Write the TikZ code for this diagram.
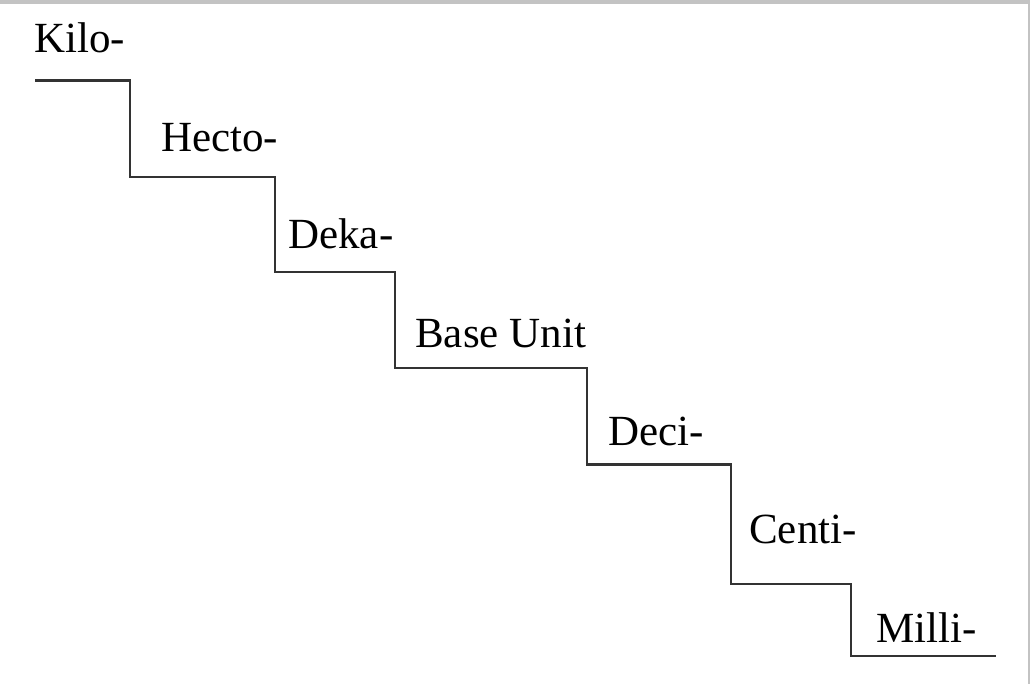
\documentclass[tikz,border=0pt]{standalone}
\usepackage{fontspec}
\setmainfont{Liberation Serif}
\usepackage{xcolor}
\usetikzlibrary{positioning}

\definecolor{stairline}{HTML}{333333}
\definecolor{frame}{HTML}{C3C3C3}

\begin{document}
\begin{tikzpicture}[
            x = 1pt, y = -1pt, % pixel-like units
            line join = miter,
            semithick % line style
        ]

        \tikzstyle{unitlabel}=[
            anchor = base west,
            inner sep = 0pt,
            font = \fontsize{43}{50}\selectfont
        ]

        \useasboundingbox (0,0) rectangle (1030,684);
        \fill[white] (0,0) rectangle (1030,684);
        % Frame
        \fill[frame] (0,0) rectangle (1030,4);
        \fill[frame] (1027.5,0) rectangle (1030,684);

        % Stairs
        \draw[stairline, line width = 2.4pt] (35,80.5) -- (130,80.5) -- (130,177) -- (275,177)
            -- (275,272) -- (395,272) -- (395,368) -- (587,368) -- (587,464.5)
            -- (731,464.5) -- (731,584) -- (851,584) -- (851,656) -- (996,656);

        % Labels
        \node[unitlabel] (kilo) [at={(34,53)}] {Kilo-};
        \node[unitlabel] (hecto) [at={(161,152)}] {Hecto-};
        \node[unitlabel] (deka) [at={(288,249)}] {Deka-};
        \node[unitlabel] (base) [at={(415,348)}] {Base Unit};
        \node[unitlabel] (deci) [at={(608,445)}] {Deci-};
        \node[unitlabel] (centi) [at={(749,543)}] {Centi-};
        \node[unitlabel] (milli) [at={(876,642)}] {Milli-};
      \end{tikzpicture}
\end{document}
